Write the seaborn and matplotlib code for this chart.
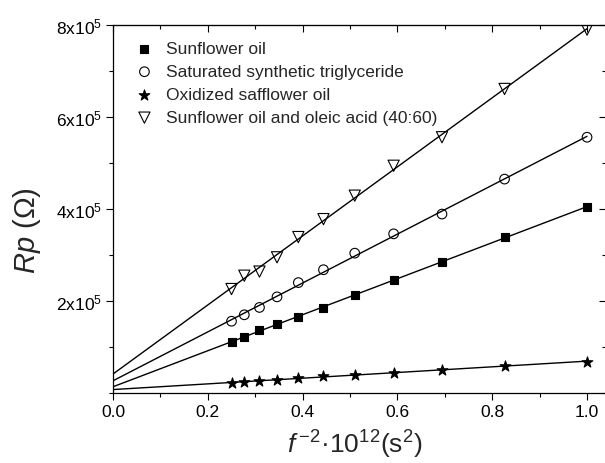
import numpy as np
import pandas as pd
import matplotlib
matplotlib.use("Agg")
import matplotlib.pyplot as plt
from matplotlib.ticker import MultipleLocator, FixedLocator
import seaborn as sns

sns.set_style("ticks")
plt.rcParams['font.family'] = ['Liberation Sans', 'DejaVu Sans']
plt.rcParams['mathtext.fontset'] = 'custom'
plt.rcParams['mathtext.rm'] = 'Liberation Sans'
plt.rcParams['mathtext.it'] = 'Liberation Sans:italic'
plt.rcParams['mathtext.bf'] = 'Liberation Sans:bold'

"""
DATA
"""
x_vals = [0.250, 0.277, 0.309, 0.346, 0.391, 0.444, 0.510, 0.592, 0.694, 0.826, 1.000]

sunflower = [1.10e5, 1.22e5, 1.37e5, 1.50e5, 1.66e5, 1.855e5, 2.13e5, 2.46e5, 2.85e5, 3.39e5, 4.04e5]
saturated = [1.56e5, 1.70e5, 1.86e5, 2.09e5, 2.40e5, 2.68e5, 3.04e5, 3.46e5, 3.89e5, 4.65e5, 5.56e5]
oxidized = [2.25e4, 2.40e4, 2.54e4, 2.83e4, 3.20e4, 3.70e4, 4.00e4, 4.35e4, 5.10e4, 5.90e4, 6.80e4]
oleic_mix = [2.26e5, 2.55e5, 2.64e5, 2.95e5, 3.39e5, 3.78e5, 4.29e5, 4.94e5, 5.56e5, 6.61e5, 7.90e5]

series_names = [
    "Sunflower oil",
    "Saturated synthetic triglyceride",
    "Oxidized safflower oil",
    "Sunflower oil and oleic acid (40:60)",
]

y_ticks = [2e5, 4e5, 6e5, 8e5]
y_tick_labels = [r"2x10$^5$", r"4x10$^5$", r"6x10$^5$", r"8x10$^5$"]
x_ticks = [0.0, 0.2, 0.4, 0.6, 0.8, 1.0]
x_tick_labels = ["0.0", "0.2", "0.4", "0.6", "0.8", "1.0"]


def main():
    fig = plt.figure(figsize=(6.05, 4.64), dpi=100)
    ax = fig.add_axes([113 / 605, 1 - 394 / 464, 493 / 605, 368 / 464])

    # regression lines run from x=0 to the last point
    ax.set_xlim(0, 1.0)
    ax.set_ylim(0, 8e5)

    styles = [
        dict(marker="s", s=32, facecolors="black", edgecolors="black"),
        dict(marker="o", s=48, facecolors="none", edgecolors="black"),
        dict(marker="*", s=65, facecolors="black", edgecolors="black"),
        dict(marker="v", s=65, facecolors="none", edgecolors="black"),
    ]
    for values, st in zip([sunflower, saturated, oxidized, oleic_mix], styles):
        df = pd.DataFrame({"x": x_vals, "y": values})
        marker = st.pop("marker")
        st.update(alpha=1, linewidths=0.8, zorder=3)
        sns.regplot(data=df, x="x", y="y", ax=ax, ci=None, truncate=False,
                    color="black", marker=marker, scatter_kws=st,
                    line_kws=dict(linewidth=1.0, zorder=2))

    ax.set_xlim(0, 1.04)
    ax.set_ylim(0, 8e5)

    ax.xaxis.set_major_locator(FixedLocator(x_ticks))
    ax.set_xticklabels(x_tick_labels)
    ax.xaxis.set_minor_locator(MultipleLocator(0.1))
    ax.yaxis.set_major_locator(FixedLocator(y_ticks))
    ax.set_yticklabels(y_tick_labels)
    ax.yaxis.set_minor_locator(MultipleLocator(1e5))

    ax.tick_params(which="both", direction="out", color="black", width=0.8,
                   labelsize=12.5, labelcolor="black")
    ax.tick_params(which="major", length=5, pad=3)
    ax.tick_params(which="minor", length=3)
    for sp in ax.spines.values():
        sp.set_color("black")
        sp.set_linewidth(0.9)

    # inward mirror ticks on top and right
    top = ax.secondary_xaxis("top")
    top.xaxis.set_major_locator(FixedLocator(x_ticks))
    top.xaxis.set_minor_locator(MultipleLocator(0.1))
    top.tick_params(which="both", direction="in", labeltop=False, width=0.8, color="black")
    top.tick_params(which="major", length=5)
    top.tick_params(which="minor", length=3)
    right = ax.secondary_yaxis("right")
    right.yaxis.set_major_locator(FixedLocator(y_ticks))
    right.yaxis.set_minor_locator(MultipleLocator(1e5))
    right.tick_params(which="both", direction="in", labelright=False, width=0.8, color="black")
    right.tick_params(which="major", length=5)
    right.tick_params(which="minor", length=3)

    ax.set_xlabel(r"$\mathit{f}^{\,\mathrm{-2}}$·10$^{12}$(s$^2$)", fontsize=19)
    ax.set_ylabel(r"$\mathit{Rp}$ ($\Omega$)", fontsize=21)
    ax.xaxis.set_label_coords(0.49, -0.095)
    ax.yaxis.set_label_coords(-0.142, 0.443)

    handles = ax.collections[:4]
    ax.legend(handles, series_names, loc="upper left", frameon=False, fontsize=12.5,
              handletextpad=0.55, labelspacing=0.45, borderaxespad=0.0,
              bbox_to_anchor=(0.025, 0.975), handlelength=1.4)

    fig.savefig("out.png", dpi=100)
    plt.close(fig)


if __name__ == "__main__":
    main()
